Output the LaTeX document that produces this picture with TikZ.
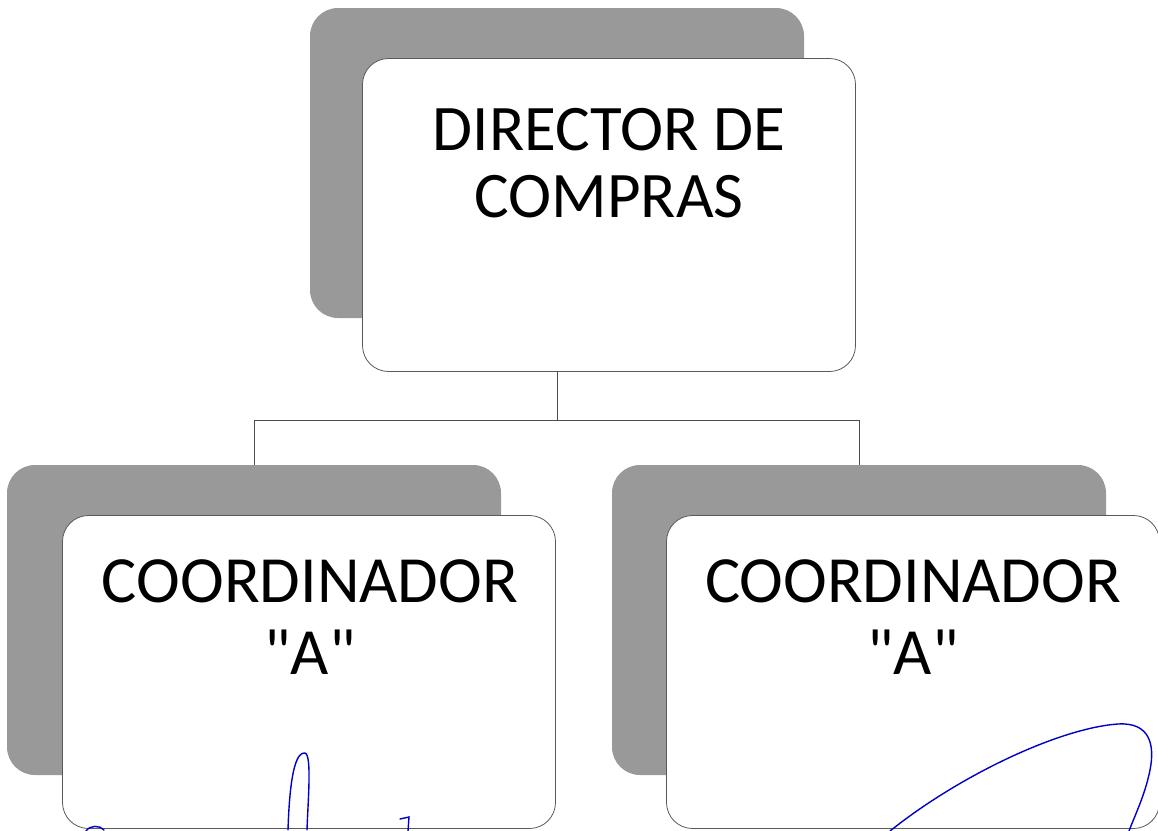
\documentclass[tikz,border=0pt]{standalone}
\usepackage{fontspec}
\setmainfont{Carlito}
\begin{document}
\begin{tikzpicture}[x=1pt,y=-1pt,
        back/.style={fill=black!40, rounded corners=28pt, minimum width=494pt, minimum height=310pt, inner sep=0pt},
        card/.style={draw=black!65, fill=white, line width=0.8pt, rounded corners=26pt, minimum width=493pt, minimum height=313pt, inner sep=0pt},
        boxtext/.style={align=center, font=\fontsize{65}{67}\selectfont},
        subtext/.style={align=center, font=\fontsize{66}{72}\selectfont},
        link/.style={draw=black!70, line width=0.9pt},
        ink/.style={draw=blue!80!black, line width=1.4pt, line cap=round}]
    \useasboundingbox (0,0) rectangle (1158,830);
    % boxes
    \node[back] (dirback) at (557, 163) {};
    \node[card] (dir) at (609, 215) {};
    \node[back] (coaback) at (254, 620) {};
    \node[card] (coa) at (309, 672) {};
    \node[back] (cobback) at (859, 620) {};
    \node[card] (cob) at (913, 672) {};
    \node[boxtext] (dirtxt) at (609, 163) {DIRECTOR DE\\COMPRAS};
    \node[subtext] (coatxt) at (310, 617) {COORDINADOR\\\textquotedbl A\textquotedbl};
    \node[subtext] (cobtxt) at (913, 617) {COORDINADOR\\\textquotedbl A\textquotedbl};
    % connectors
    \coordinate (split) at (557, 420);
    \path[link] (split |- dir.south) -- (split) -| (coaback.north);
    \path[link] (split) -| (cobback.north);
    % signatures
    \draw[ink] (86,831) .. controls (90,825) and (100,825) .. (104,830);
    \draw[ink] (288,830) .. controls (290,765) and (298,752) .. (305,753) .. controls (312,755) and (308,800) .. (307,830);
    \draw[ink] (400,819) -- (409,817) -- (408,831);
    \draw[ink] (890,831) .. controls (960,775) and (1060,728) .. (1118,724) .. controls (1150,722) and (1155,745) .. (1150,770) .. controls (1145,795) and (1135,815) .. (1129,831);
\end{tikzpicture}
\end{document}
